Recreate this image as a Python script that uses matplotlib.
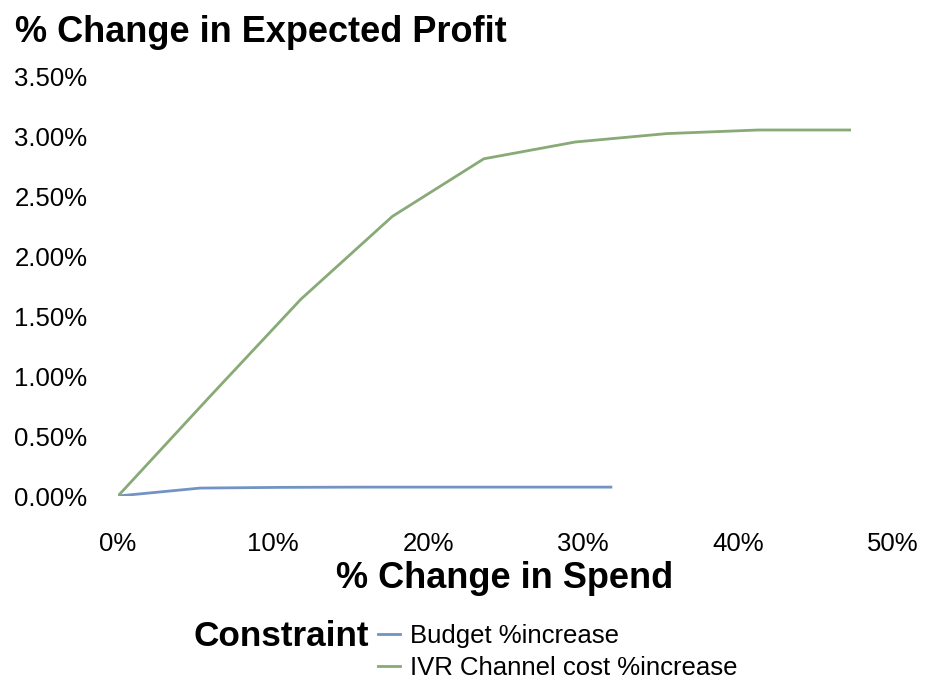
import matplotlib
matplotlib.use("Agg")
import matplotlib.pyplot as plt
from matplotlib.ticker import FuncFormatter

# values (percent)
budget_spend = [0.0, 5.3, 10.6, 15.9, 21.2, 26.5, 31.8]
budget_profit = [0.0, 0.066, 0.072, 0.074, 0.074, 0.074, 0.074]
ivr_spend = [0.0, 5.9, 11.8, 17.7, 23.6, 29.5, 35.4, 41.3, 47.2]
ivr_profit = [0.0, 0.825, 1.64, 2.33, 2.81, 2.95, 3.02, 3.05, 3.05]

x_ticks = [0, 10, 20, 30, 40, 50]
y_ticks = [0.0, 0.5, 1.0, 1.5, 2.0, 2.5, 3.0, 3.5]

BLUE = "#7393c2"
GREEN = "#88aa76"

plt.rcParams["font.family"] = ["Liberation Sans", "DejaVu Sans"]

fig = plt.figure(figsize=(9.25, 6.8), dpi=100)
ax = fig.add_axes([118 / 925, 1 - 496 / 680, (893 - 118) / 925, (496 - 76) / 680])

l1, = ax.plot(budget_spend, budget_profit, color=BLUE, lw=2.0,
              solid_joinstyle="round", label="Budget %increase")
l2, = ax.plot(ivr_spend, ivr_profit, color=GREEN, lw=2.0,
              solid_joinstyle="round", label="IVR Channel cost %increase")

ax.set_xlim(0, 50)
ax.set_ylim(0, 3.5)
ax.set_xticks(x_ticks)
ax.set_yticks(y_ticks)
ax.xaxis.set_major_formatter(FuncFormatter(lambda v, p: f"{v:.0f}%"))
ax.yaxis.set_major_formatter(FuncFormatter(lambda v, p: f"{v:.2f}%"))
ax.tick_params(axis="both", length=0, labelsize=18.5)
ax.tick_params(axis="x", pad=26)
ax.tick_params(axis="y", pad=22)
for s in ax.spines.values():
    s.set_visible(False)

fig.text(15 / 925, 1 - 32 / 680, "% Change in Expected Profit",
         fontsize=26, fontweight="bold", ha="left", va="center")
fig.text(505 / 925, 1 - 578 / 680, "% Change in Spend",
         fontsize=26, fontweight="bold", ha="center", va="center")
fig.text(369 / 925, 1 - 637 / 680, "Constraint",
         fontsize=25.3, fontweight="bold", ha="right", va="center")

fig.legend(handles=[l1, l2], loc="center left",
           bbox_to_anchor=(378 / 925, 1 - 652 / 680),
           frameon=False, fontsize=18.5, borderpad=0, borderaxespad=0,
           handlelength=0.85, handletextpad=0.4, labelspacing=0.3)

fig.savefig("out.png", dpi=100)
